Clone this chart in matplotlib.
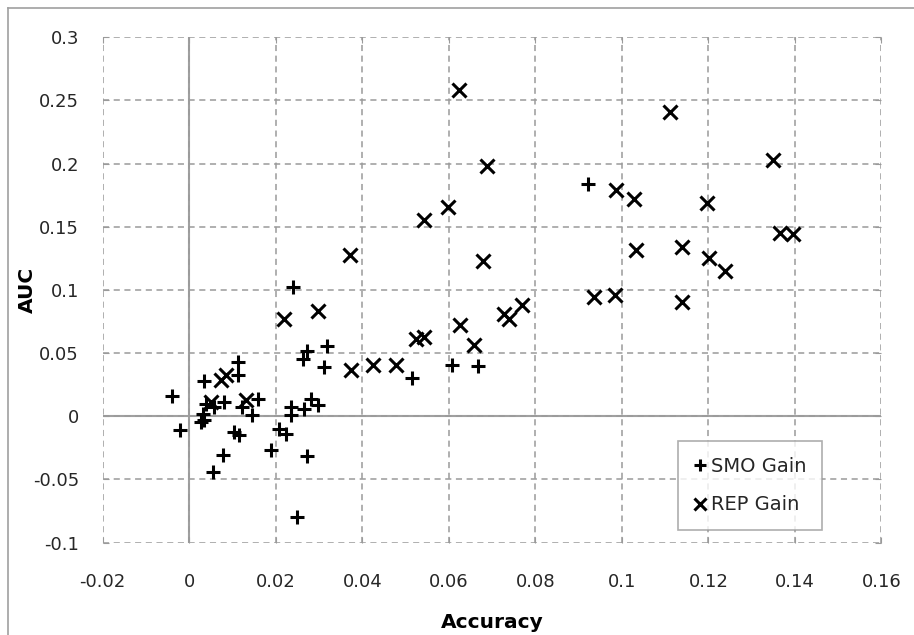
import numpy as np
import matplotlib.pyplot as plt
from matplotlib.lines import Line2D

# SMO gain points (accuracy gain, AUC gain)
smo_acc = [-0.0041, -0.0021, 0.0033, 0.0113, 0.0113, 0.0039, 0.0058, 0.0081,
           0.0031, 0.0035, 0.0027, 0.0158, 0.0123, 0.0146, 0.0104, 0.0115,
           0.0077, 0.0054, 0.0189, 0.0208, 0.0223, 0.0235, 0.0235, 0.0266,
           0.0281, 0.0297, 0.0273, 0.0250, 0.0273, 0.0262, 0.0319, 0.0312,
           0.0239, 0.0514, 0.0607, 0.0668, 0.0921]
smo_auc = [0.0158, -0.0110, 0.0280, 0.0430, 0.0330, 0.0100, 0.0074, 0.0113,
           0.0020, -0.0032, -0.0045, 0.0140, 0.0074, 0.0008, -0.0124, -0.0150,
           -0.0310, -0.0440, -0.0270, -0.0097, -0.0137, 0.0074, 0.0008, 0.0060,
           0.0140, 0.0087, -0.0316, -0.0800, 0.0520, 0.0456, 0.0560, 0.0390,
           0.1020, 0.0306, 0.0409, 0.0396, 0.1835]

# REP gain points
rep_acc = [0.0624, 0.0688, 0.0598, 0.0543, 0.0372, 0.0678, 0.1111, 0.1349,
           0.0987, 0.1028, 0.1197, 0.1365, 0.1396, 0.1032, 0.1139, 0.1201,
           0.1238, 0.0935, 0.0984, 0.1138, 0.0727, 0.0739, 0.0770, 0.0219,
           0.0297, 0.0625, 0.0658, 0.0524, 0.0543, 0.0375, 0.0424, 0.0477,
           0.0073, 0.0085, 0.0050, 0.0131]
rep_auc = [0.2580, 0.1980, 0.1656, 0.1550, 0.1280, 0.1226, 0.2408, 0.2025,
           0.1788, 0.1717, 0.1690, 0.1453, 0.1440, 0.1313, 0.1340, 0.1252,
           0.1150, 0.0944, 0.0957, 0.0904, 0.0807, 0.0773, 0.0878, 0.0773,
           0.0833, 0.0720, 0.0562, 0.0609, 0.0627, 0.0364, 0.0409, 0.0409,
           0.0285, 0.0324, 0.0113, 0.0127]

xticks = np.round(np.arange(-0.02, 0.161, 0.02), 2)
yticks = np.round(np.arange(-0.1, 0.301, 0.05), 2)

plt.rcParams['font.family'] = ['DejaVu Sans']
txt = '#262626'

fig = plt.figure(figsize=(9.14, 6.35), dpi=100)
ax = fig.add_axes([0.1124, 0.1454, 0.852, 0.7959])

# outer chart border: only left and top edges fall inside the picture
bx, by = 0.009, 0.987
fig.add_artist(Line2D([bx, bx], [0, by], transform=fig.transFigure,
                      color='#a0a0a0', linewidth=1.2))
fig.add_artist(Line2D([bx, 1], [by, by], transform=fig.transFigure,
                      color='#a0a0a0', linewidth=1.2))

ax.set_xlim(-0.02, 0.16)
ax.set_ylim(-0.1, 0.3)
ax.set_xticks(xticks)
ax.set_yticks(yticks)
ax.set_xticklabels(['{:g}'.format(v) for v in xticks])
ax.set_yticklabels(['{:g}'.format(v) for v in yticks])
ax.grid(True, color='#9a9a9a', linestyle=(0, (4, 3)), linewidth=1.1)
for s in ax.spines.values():
    s.set_visible(False)
ax.axhline(0, color='#a0a0a0', linewidth=1.5, zorder=1.5)
ax.axvline(0, color='#a0a0a0', linewidth=1.5, zorder=1.5)
ax.tick_params(axis='both', direction='in', length=4, color='#9a9a9a',
               labelsize=13, labelcolor=txt, top=True, right=True)
ax.tick_params(axis='x', pad=22)
ax.tick_params(axis='y', pad=17)

ax.plot(smo_acc, smo_auc, linestyle='none', marker='+', markersize=10,
        markeredgewidth=2.2, color='black', label='SMO Gain', zorder=3)
ax.plot(rep_acc, rep_auc, linestyle='none', marker='x', markersize=10,
        markeredgewidth=2.2, color='black', label='REP Gain', zorder=3)

ax.set_xlabel('Accuracy', fontsize=14.5, fontweight='bold', color='black')
ax.set_ylabel('AUC', fontsize=14.5, fontweight='bold', color='black')
ax.xaxis.set_label_coords(0.5, -0.139)
ax.yaxis.set_label_coords(-0.084, 0.5)

leg = ax.legend(loc='lower left', bbox_to_anchor=(0.7387, 0.025), borderaxespad=0,
                fontsize=14, frameon=True, fancybox=False, labelspacing=1.0,
                handlelength=0.7, handletextpad=0.2, borderpad=0.8,
                markerscale=0.9)
leg.get_frame().set_edgecolor('#9a9a9a')
leg.get_frame().set_linewidth(1.2)
for t in leg.get_texts():
    t.set_color(txt)

fig.savefig('out.png', dpi=100)
